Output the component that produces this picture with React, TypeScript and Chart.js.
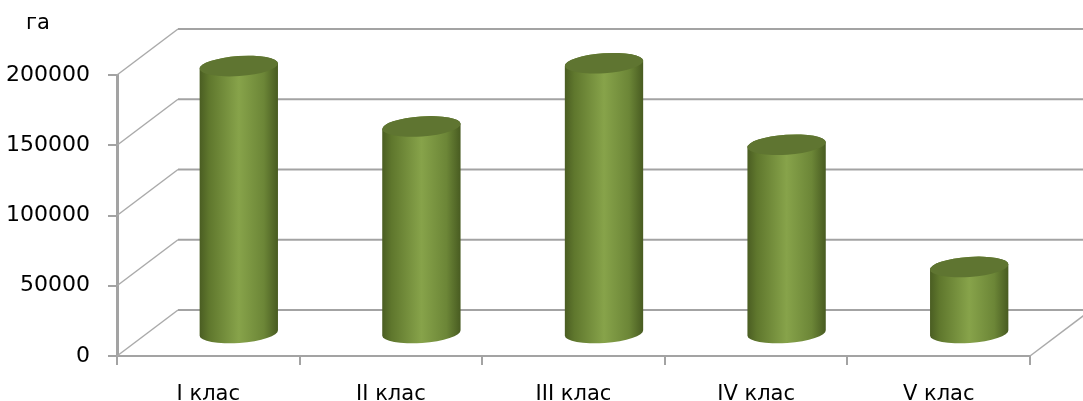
import React, { useEffect, useRef } from "react";
import { Chart, registerables } from "chart.js";

Chart.register(...registerables);

const categories = ["I клас", "II клас", "III клас", "IV клас", "V клас"];
const areaValues = [190000, 147000, 192000, 134000, 47000];
const yTickValues = [0, 50000, 100000, 150000, 200000];
const unitLabel = "га";

const FONT = "DejaVu Sans";
const DEPTH_X = 61;
const DEPTH_Y = -46;
const GRID = "#a3a3a3";

const wallPlugin = {
  id: "wall3d",
  beforeDatasetsDraw(chart: any) {
    const { ctx, chartArea } = chart;
    const y = chart.scales.y;
    ctx.save();
    ctx.lineCap = "butt";
    yTickValues.forEach((v) => {
      const yf = y.getPixelForValue(v);
      ctx.strokeStyle = "#aaaaaa";
      ctx.lineWidth = 1.5;
      ctx.beginPath();
      ctx.moveTo(chartArea.left, yf);
      ctx.lineTo(chartArea.left + DEPTH_X, yf + DEPTH_Y);
      ctx.stroke();
      ctx.strokeStyle = GRID;
      ctx.lineWidth = 2;
      ctx.beginPath();
      ctx.moveTo(chartArea.left + DEPTH_X, yf + DEPTH_Y);
      ctx.lineTo(chart.width, yf + DEPTH_Y);
      ctx.stroke();
    });
    ctx.strokeStyle = "#aaaaaa";
    ctx.lineWidth = 1.5;
    ctx.beginPath();
    ctx.moveTo(chartArea.right, chartArea.bottom);
    ctx.lineTo(chartArea.right + DEPTH_X, chartArea.bottom + DEPTH_Y);
    ctx.stroke();
    ctx.fillStyle = "#000";
    ctx.font = `21px "${FONT}"`;
    ctx.textBaseline = "alphabetic";
    ctx.textAlign = "left";
    ctx.fillText(unitLabel, 26, 29);
    ctx.restore();
  },
  afterDatasetsDraw(chart: any) {
    const { ctx } = chart;
    const y = chart.scales.y;
    const meta = chart.getDatasetMeta(0);
    const rot = -0.07;
    ctx.save();
    meta.data.forEach((bar: any) => {
      const cx = bar.x + DEPTH_X / 2;
      const rx = bar.width / 2;
      const ry = 10;
      const yTop = bar.y + DEPTH_Y / 2;
      const yBot = y.getPixelForValue(0) + DEPTH_Y / 2;
      const g = ctx.createLinearGradient(cx - rx, 0, cx + rx, 0);
      g.addColorStop(0, "#4a5d22");
      g.addColorStop(0.12, "#5f772d");
      g.addColorStop(0.5, "#87a34a");
      g.addColorStop(0.82, "#6c8637");
      g.addColorStop(1, "#485b21");
      ctx.fillStyle = g;
      ctx.beginPath();
      ctx.ellipse(cx, yBot, rx, ry, rot, 0, Math.PI, false);
      ctx.ellipse(cx, yTop, rx, ry, rot, Math.PI, Math.PI * 2, false);
      ctx.closePath();
      ctx.fill();
      ctx.fillStyle = "#5f7531";
      ctx.beginPath();
      ctx.ellipse(cx, yTop, rx, ry, rot, 0, Math.PI * 2);
      ctx.fill();
    });
    ctx.restore();
  },
};

export default function App() {
  const ref = useRef<HTMLCanvasElement | null>(null);
  useEffect(() => {
    if (!ref.current) return;
    const chart = new Chart(ref.current, {
      type: "bar",
      data: {
        labels: categories,
        datasets: [
          {
            data: areaValues,
            backgroundColor: "rgba(0,0,0,0)",
            borderWidth: 0,
            categoryPercentage: 1,
            barPercentage: 0.43,
          },
        ],
      },
      options: {
        animation: false,
        responsive: false,
        devicePixelRatio: 1,
        layout: { padding: { left: 0, top: 75, right: 53, bottom: 0 } },
        plugins: { legend: { display: false }, tooltip: { enabled: false }, title: { display: false } },
        scales: {
          x: {
            type: "category",
            ticks: { font: { family: FONT, size: 21 }, color: "#000", padding: 17, maxRotation: 0 },
            grid: { drawOnChartArea: false, drawTicks: true, tickLength: 9, color: GRID, lineWidth: 2, offset: true },
            border: { display: true, color: GRID, width: 2 },
            afterFit: (s: any) => {
              s.height = 45;
            },
          },
          y: {
            type: "linear",
            min: 0,
            max: 200000,
            afterBuildTicks: (s: any) => {
              s.ticks = yTickValues.map((v) => ({ value: v }));
            },
            ticks: {
              font: { family: FONT, size: 22 },
              color: "#000",
              padding: 18,
              callback: (v: any) => String(v),
            },
            grid: { drawOnChartArea: false, drawTicks: true, tickLength: 9, color: GRID, lineWidth: 2 },
            border: { display: true, color: GRID, width: 3 },
            afterFit: (s: any) => {
              s.width = 117;
            },
          },
        },
      },
      plugins: [wallPlugin],
    });
    return () => chart.destroy();
  }, []);
  return (
    <div style={{ position: "absolute", left: 0, top: 0, width: 1083, height: 401, background: "#fff" }}>
      <canvas ref={ref} width={1083} height={401} style={{ display: "block" }} />
    </div>
  );
}
